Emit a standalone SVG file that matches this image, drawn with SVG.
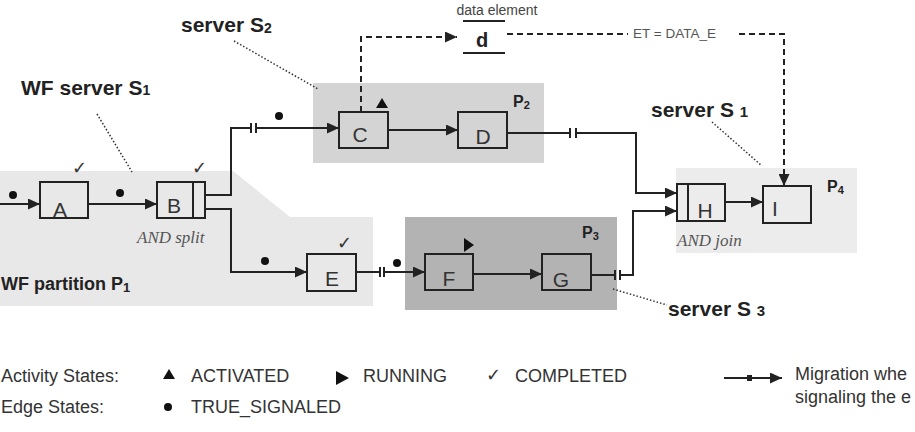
<svg xmlns="http://www.w3.org/2000/svg" width="915" height="432" viewBox="0 0 915 432">
<style>
.box{fill:none;stroke:#222;stroke-width:2}
.lbl{font-family:"Liberation Sans",Arial,sans-serif;font-size:21px;fill:#333;text-anchor:middle}
.edge{fill:none;stroke:#222;stroke-width:2}
.dash{fill:none;stroke:#222;stroke-width:2;stroke-dasharray:6,4}
.lead{fill:none;stroke:#333;stroke-width:1.5;stroke-dasharray:1.5,2}
.bold{font-family:"Liberation Sans",Arial,sans-serif;font-weight:bold;fill:#222}
.it{font-family:"Liberation Serif","Times New Roman",serif;font-style:italic;font-size:17px;fill:#555}
.leg{font-family:"Liberation Sans",Arial,sans-serif;font-size:18px;fill:#333}
.chk{font-family:"DejaVu Sans",sans-serif;font-size:18px;fill:#333}
.dot{fill:#111}
</style>
<defs>
<marker id="arr" markerUnits="userSpaceOnUse" markerWidth="12" markerHeight="11" viewBox="0 0 12 11" refX="12" refY="5.5" orient="auto"><path d="M0,0 L12,5.5 L0,11 z" fill="#222"/></marker>
</defs>

<!-- regions -->
<polygon points="0,171 233,171 290,217 373,217 373,306 0,306" fill="#e8e8e8"/>
<rect x="313" y="83" width="231" height="80" fill="#d4d4d4"/>
<rect x="405" y="217" width="212" height="93" fill="#b3b3b3"/>
<rect x="676" y="168" width="181" height="85" fill="#ececec"/>

<!-- region labels -->
<text class="bold" x="21" y="95" font-size="21">WF server S<tspan font-size="14">1</tspan></text>
<text class="bold" x="181" y="32" font-size="21">server S<tspan font-size="14" dy="1">2</tspan></text>
<text class="bold" x="651" y="117" font-size="21">server S <tspan font-size="15">1</tspan></text>
<text class="bold" x="668" y="316" font-size="21">server S <tspan font-size="15">3</tspan></text>
<text class="bold" x="1" y="290" font-size="18">WF partition P<tspan font-size="13" dy="2">1</tspan></text>
<text class="bold" x="513" y="107" font-size="16">P<tspan font-size="11" dy="2">2</tspan></text>
<text class="bold" x="582" y="238" font-size="16">P<tspan font-size="11" dy="2">3</tspan></text>
<text class="bold" x="827" y="192" font-size="16">P<tspan font-size="11" dy="2">4</tspan></text>
<text class="it" x="137" y="243">AND split</text>
<text class="it" x="677" y="246" font-size="18">AND join</text>

<!-- leaders -->
<g id="leaders">
<line class="lead" x1="97" y1="114" x2="132" y2="172"/>
<line class="lead" x1="234" y1="41" x2="318" y2="89"/>
<line class="lead" x1="712" y1="122" x2="762" y2="166"/>
<line class="lead" x1="613" y1="289" x2="667" y2="305"/>
</g>

<!-- data element -->
<g id="data-d">
<text x="497" y="15" font-family="Liberation Sans,Arial,sans-serif" font-size="14" fill="#444" text-anchor="middle">data element</text>
<line x1="463" y1="21" x2="505" y2="21" stroke="#222" stroke-width="2"/>
<line x1="463" y1="53" x2="505" y2="53" stroke="#222" stroke-width="2"/>
<text class="bold" x="482" y="47" font-size="20" text-anchor="middle">d</text>
</g>

<!-- connectors -->
<g id="connectors">
<line class="edge" x1="0" y1="204" x2="40" y2="204" marker-end="url(#arr)"/>
<line class="edge" x1="88" y1="204" x2="157" y2="204" marker-end="url(#arr)"/>
<polyline class="edge" points="205,195 231,195 231,128 251,128"/>
<line class="edge" x1="251" y1="123" x2="251" y2="133"/>
<line class="edge" x1="256" y1="123" x2="256" y2="133"/>
<line class="edge" x1="256" y1="128" x2="339" y2="128" marker-end="url(#arr)"/>
<polyline class="edge" points="205,209 231,209 231,272 307,272" marker-end="url(#arr)"/>
<line class="edge" x1="388" y1="130" x2="458" y2="130" marker-end="url(#arr)"/>
<line class="edge" x1="507" y1="133" x2="570" y2="133"/>
<line class="edge" x1="570" y1="128" x2="570" y2="138"/>
<line class="edge" x1="576" y1="128" x2="576" y2="138"/>
<polyline class="edge" points="576,133 636,133 636,193 677,193" marker-end="url(#arr)"/>
<line class="edge" x1="356" y1="272" x2="380" y2="272"/>
<line class="edge" x1="380" y1="267" x2="380" y2="277"/>
<line class="edge" x1="384" y1="267" x2="384" y2="277"/>
<line class="edge" x1="384" y1="272" x2="425" y2="272" marker-end="url(#arr)"/>
<line class="edge" x1="473" y1="274" x2="542" y2="274" marker-end="url(#arr)"/>
<line class="edge" x1="591" y1="275" x2="615" y2="275"/>
<line class="edge" x1="615" y1="270" x2="615" y2="280"/>
<line class="edge" x1="620" y1="270" x2="620" y2="280"/>
<polyline class="edge" points="620,275 633,275 633,211 677,211" marker-end="url(#arr)"/>
<line class="edge" x1="725" y1="202" x2="763" y2="202" marker-end="url(#arr)"/>
<polyline class="dash" points="361,112 361,37 457,37" marker-end="url(#arr)"/>
<line class="dash" x1="507" y1="34" x2="628" y2="34"/>
<polyline class="dash" points="739,34 784,34 784,186" marker-end="url(#arr)"/>
<text x="633" y="38" font-family="Liberation Sans,Arial,sans-serif" font-size="13.5" fill="#555">ET = DATA_E</text>
</g>

<!-- edge states -->
<g id="edge-states">
<circle class="dot" cx="13" cy="195" r="4"/>
<circle class="dot" cx="120" cy="193" r="4"/>
<circle class="dot" cx="279" cy="116" r="4"/>
<circle class="dot" cx="265" cy="261" r="4"/>
<circle class="dot" cx="397" cy="263" r="4"/>
</g>

<!-- nodes -->
<g id="A"><rect class="box" x="40" y="182" width="48" height="36"/><text class="lbl" x="60" y="217">A</text><text class="chk" x="72" y="174">✓</text></g>
<g id="B"><rect class="box" x="157" y="182" width="48" height="36"/><line x1="193" y1="182" x2="193" y2="218" stroke="#222" stroke-width="2"/><text class="lbl" x="174" y="213">B</text><text class="chk" x="192" y="174">✓</text></g>
<g id="C"><rect class="box" x="339" y="112" width="49" height="36"/><text class="lbl" x="360" y="142">C</text><polygon points="376,108 388,108 382,98" fill="#111"/></g>
<g id="D"><rect class="box" x="458" y="112" width="49" height="36"/><text class="lbl" x="483" y="144">D</text></g>
<g id="E"><rect class="box" x="307" y="254" width="49" height="37"/><text class="lbl" x="332" y="286">E</text><text class="chk" x="337" y="249">✓</text></g>
<g id="F"><rect class="box" x="425" y="254" width="48" height="36"/><text class="lbl" x="449" y="286">F</text><polygon points="464,238 474,245 464,252" fill="#111"/></g>
<g id="G"><rect class="box" x="542" y="254" width="49" height="36"/><text class="lbl" x="561" y="287">G</text></g>
<g id="H"><rect class="box" x="677" y="184" width="48" height="37"/><line x1="688" y1="184" x2="688" y2="221" stroke="#222" stroke-width="2"/><text class="lbl" x="705" y="218">H</text></g>
<g id="I"><rect class="box" x="763" y="186" width="48" height="37"/><text class="lbl" x="775" y="216">I</text></g>

<!-- legend -->
<g id="legend">
<text class="leg" x="1" y="382">Activity States:</text>
<text class="leg" x="1" y="413">Edge States:</text>
<polygon points="163,379 175,379 169,369" fill="#111"/>
<text class="leg" x="191" y="382">ACTIVATED</text>
<polygon points="336,371 349,378 336,385" fill="#111"/>
<text class="leg" x="363" y="382">RUNNING</text>
<text class="chk" x="486" y="381" font-size="15">✓</text>
<text class="leg" x="515" y="382">COMPLETED</text>
<circle class="dot" cx="168" cy="407" r="4"/>
<text class="leg" x="191" y="413">TRUE_SIGNALED</text>
<line class="edge" x1="724" y1="378" x2="782" y2="378" marker-end="url(#arr)"/>
<rect x="747" y="375" width="5" height="6" fill="#222"/>
<text class="leg" x="795" y="380">Migration whe</text>
<text class="leg" x="795" y="403">signaling the e</text>
</g>
</svg>
